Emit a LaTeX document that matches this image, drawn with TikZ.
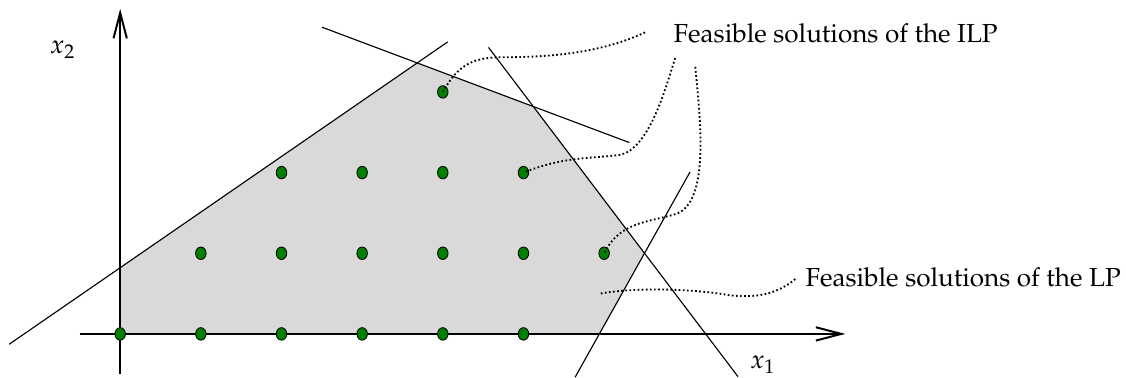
\documentclass[tikz,border=0pt]{standalone}
\usepackage[T1]{fontenc}
\usepackage{amsmath,amssymb}
\usepackage{mathpazo}
\usetikzlibrary{arrows.meta,shapes.geometric}

\begin{document}
\begin{tikzpicture}[
		x=1cm,y=1cm,
		>={Straight Barb[length=9pt,width=4.7pt]},
		every node/.style={font=\fontsize{9.2}{11}\selectfont},
		lattice/.style={draw, ellipse, fill=green!50!black, line width=0.3pt,
			minimum width=0.13cm, minimum height=0.155cm, inner sep=0pt},
		leader/.style={line width=0.65pt, dash pattern=on 0.6pt off 0.85pt}
		]
		\useasboundingbox (-1.49,-0.545) rectangle (12.47,4.14);
		
		% =========================
		% LP relaxation: shaded polytope and its constraints
		% =========================
		\fill[black!15] (0,0) -- (0,0.82) -- (3.684,3.358) -- (5.122,2.819)
		-- (6.501,0.999) -- (5.942,0) -- cycle;
		
		\draw[line width=0.4pt] (-1.376,-0.128) -- (4.06,3.62);
		\draw[line width=0.4pt] (2.504,3.802) -- (6.313,2.372);
		\draw[line width=0.4pt] (4.566,3.553) -- (7.66,-0.53);
		\draw[line width=0.4pt] (5.64,-0.537) -- (7.065,2.008);
		
		% =========================
		% axes
		% =========================
		\coordinate (x-start) at (-0.5,0);
		\coordinate (x-end) at (8.99,0);
		\coordinate (y-start) at (0,-0.5);
		\coordinate (y-end) at (0,4.03);
		\draw[->, line width=0.7pt] (x-start) -- (x-end);
		\draw[->, line width=0.7pt] (y-start) -- (y-end);
		\node (xone) at (7.97,-0.38) {$x_1$};
		\node (xtwo) at (-0.71,3.52) {$x_2$};
		
		% =========================
		% integer points
		% =========================
		\foreach \i in {0,...,5} \node[lattice] (p-\i-0) at (\i,0) {};
		\foreach \i in {1,...,6} \node[lattice] (p-\i-1) at (\i,1) {};
		\foreach \i in {2,...,5} \node[lattice] (p-\i-2) at (\i,2) {};
		\node[lattice] (p-4-3) at (4,3) {};
		
		% =========================
		% labels and leaders
		% =========================
		\node[anchor=base west, inner sep=0pt] (ilp) at (6.855,3.607) {Feasible solutions of the ILP};
		\node[anchor=base west, inner sep=0pt] (lp) at (8.49,0.586) {Feasible solutions of the LP};
		
		\coordinate (ilp-a) at (6.51,3.74);
		\coordinate (ilp-b) at (6.88,3.42);
		\coordinate (ilp-c) at (7.13,3.31);
		\coordinate (lp-a) at (8.37,0.68);
		\coordinate (lp-b) at (5.95,0.50);
		
		\draw[leader] (p-4-3.center) .. controls (4.2,3.36) and (4.4,3.43) .. (4.75,3.43)
		.. controls (5.4,3.43) and (6.0,3.5) .. (ilp-a);
		\draw[leader] (ilp-b) .. controls (6.75,3.0) and (6.55,2.3) .. (6.2,2.22)
		.. controls (5.8,2.17) and (5.5,2.2) .. (p-5-2.center);
		\draw[leader] (ilp-c) .. controls (7.2,2.6) and (7.3,1.65) .. (6.9,1.49)
		.. controls (6.55,1.38) and (6.2,1.4) .. (p-6-1.center);
		\draw[leader] (lp-a) .. controls (8.15,0.5) and (7.9,0.44) .. (7.55,0.48)
		.. controls (7.1,0.56) and (6.4,0.58) .. (lp-b);
		
	\end{tikzpicture}
\end{document}
